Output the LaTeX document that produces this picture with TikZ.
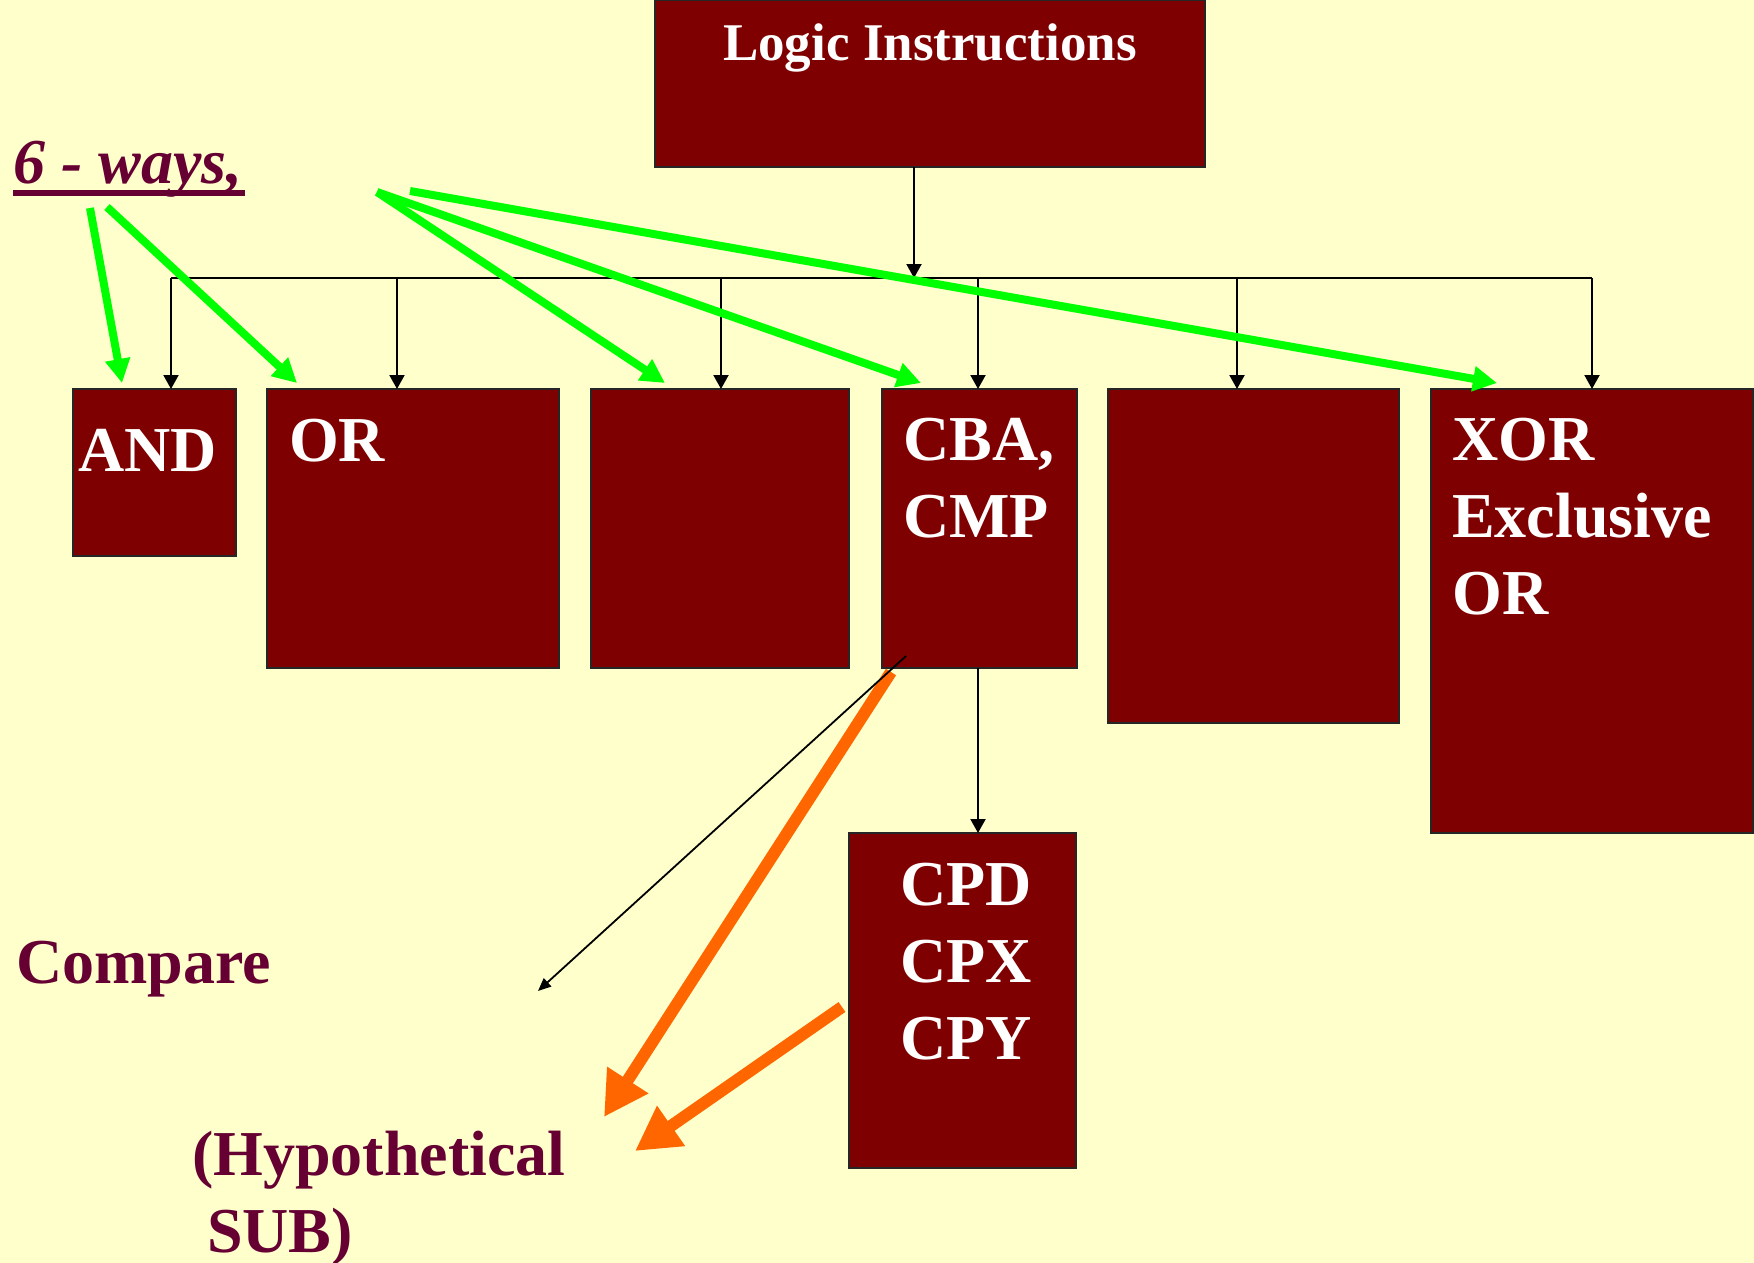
\documentclass[tikz,border=0pt]{standalone}
\usepackage{fontspec}
\setmainfont{Liberation Serif}
\usetikzlibrary{arrows.meta}
\definecolor{bgc}{HTML}{FFFFCC}
\definecolor{boxc}{HTML}{7F0000}
\definecolor{purp}{HTML}{660033}
\definecolor{grn}{HTML}{00FF00}
\definecolor{orng}{HTML}{FF6600}
\tikzset{
  box/.style={draw=black!85, line width=1.5pt, fill=boxc, inner sep=0pt, outer sep=0pt, anchor=north west},
  lbl/.style={text=white, font=\bfseries\fontsize{64}{77}\selectfont, inner sep=0pt, anchor=base west, align=left},
  ptxt/.style={text=purp, font=\bfseries\fontsize{64}{77}\selectfont, inner sep=0pt, anchor=base west, align=left},
  conn/.style={line width=2pt, draw=black},
  ctip/.style={-{Triangle[length=14pt,width=15pt]}},
  garrow/.style={draw=grn, line width=8pt, -{Triangle[length=24pt,width=24pt]}},
  oarrow/.style={draw=orng, line width=12pt, -{Triangle[length=44pt,width=46pt]}},
}
\begin{document}
\begin{tikzpicture}[x=1pt,y=-1pt]
\useasboundingbox[fill=bgc] (0,0) rectangle (1754,1263);

% boxes
\node[box, minimum width=550pt, minimum height=167pt] (top) at (655,0) {};
\node[box, minimum width=163pt, minimum height=167pt] (and) at (73,389) {};
\node[box, minimum width=292pt, minimum height=279pt] (or) at (267,389) {};
\node[box, minimum width=258pt, minimum height=279pt] (third) at (591,389) {};
\node[box, minimum width=195pt, minimum height=279pt] (cba) at (882,389) {};
\node[box, minimum width=291pt, minimum height=334pt] (fifth) at (1108,389) {};
\node[box, minimum width=322pt, minimum height=444pt] (xor) at (1431,389) {};
\node[box, minimum width=227pt, minimum height=335pt] (cpd) at (849,833) {};

% labels (base anchor = baseline of the last line)
\node[lbl, font=\bfseries\fontsize{53}{64}\selectfont, anchor=base] (topl) at (930,61) {Logic Instructions};
\node[lbl] (andl) at (78,471) {AND};
\node[lbl] (orl) at (289,461) {OR};
\node[lbl] (cbal) at (903,537) {CBA,\\CMP};
\node[lbl] (xorl) at (1452,614) {XOR\\Exclusive\\OR};
\node[lbl] (cpdl) at (900,1059) {CPD\\CPX\\CPY};

\node[ptxt, font=\bfseries\itshape\fontsize{64}{77}\selectfont] (ways) at (13,183) {6 - ways,};
\draw[purp, line width=6pt] ([yshift=-10pt]ways.base west) -- ([yshift=-10pt,xshift=2pt]ways.base east);
\node[ptxt] (cmp) at (16,983) {Compare};
\node[ptxt] (hyp) at (192,1252) {(Hypothetical\\\hspace*{15pt}SUB)};

% tree connectors
\coordinate (stem) at (914,278);
\draw[conn, ctip] (stem |- top.south) -- (stem);
\coordinate (dA) at (171,278);
\coordinate (dO) at (397,278);
\coordinate (dT) at (721,278);
\coordinate (dC) at (978,278);
\coordinate (dF) at (1237,278);
\coordinate (dX) at (1592,278);
\draw[conn] (dA) -- (dX);
\draw[conn, ctip] (dA) -- (dA |- and.north);
\draw[conn, ctip] (dO) -- (dO |- or.north);
\draw[conn, ctip] (dT) -- (dT |- third.north);
\draw[conn, ctip] (dC) -- (dC |- cba.north);
\draw[conn, ctip] (dF) -- (dF |- fifth.north);
\draw[conn, ctip] (dX) -- (dX |- xor.north);
\draw[conn, ctip] (dC |- cba.south) -- (dC |- cpd.north);

% green arrows
\coordinate (g1s) at (90,208);
\coordinate (g2s) at (107,207);
\coordinate (g3s) at (377,192);
\coordinate (g5s) at (410,191);
\coordinate (g1e) at (122,383);
\coordinate (g2e) at (297,383);
\coordinate (g3e) at (665,383);
\coordinate (g4e) at (921,383);
\coordinate (g5e) at (1497,383);
\draw[garrow] (g1s) -- (g1e);
\draw[garrow] (g2s) -- (g2e);
\draw[garrow] (g3s) -- (g3e);
\draw[garrow] (g3s) -- (g4e);
\draw[garrow] (g5s) -- (g5e);

% orange arrows
\coordinate (o1s) at (891,672);
\coordinate (o1e) at (604,1117);
\coordinate (o2s) at (842,1007);
\coordinate (o2e) at (635,1151);
\draw[oarrow] (o1s) -- (o1e);
\draw[oarrow] (o2s) -- (o2e);

% black diagonal
\coordinate (bs) at (906,656);
\coordinate (be) at (538,991);
\draw[line width=1.8pt, -{Triangle[length=13pt,width=11pt]}] (bs) -- (be);
\end{tikzpicture}
\end{document}
